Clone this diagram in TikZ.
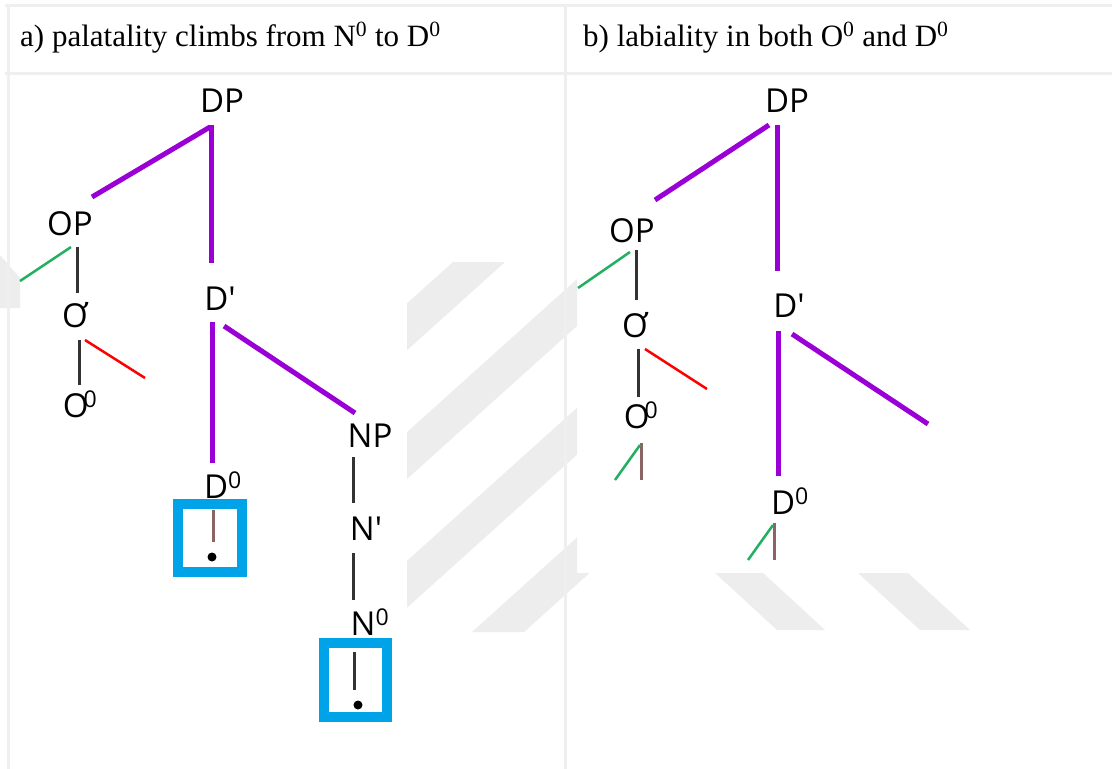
\documentclass[tikz,border=0pt]{standalone}
\usepackage{fontspec}
\setmainfont{Liberation Serif}
\newfontfamily\treefont{Open Sans}[Ligatures=TeXOff]
\definecolor{purp}{HTML}{9A00D6}
\definecolor{grn}{HTML}{22B060}
\definecolor{boxblue}{HTML}{00A2E8}
\definecolor{wm}{HTML}{EDEDED}
\definecolor{rulec}{HTML}{EFEFEF}
\definecolor{dk}{HTML}{333333}
\definecolor{brn}{HTML}{8C6464}
\begin{document}
\begin{tikzpicture}[x=1pt,y=-1pt,
  lab/.style={font=\treefont\fontsize{33}{33}\selectfont, inner sep=0pt, anchor=base},
  captxt/.style={font=\fontsize{31}{31}\selectfont, inner sep=0pt, anchor=base west},
  pl/.style={draw=purp, line width=5pt},
  dl/.style={draw=dk, line width=3pt},
  gl/.style={draw=grn, line width=2.5pt},
  rl/.style={draw=red, line width=2.5pt},
  bl/.style={draw=brn, line width=3pt},
  hbox/.style={draw=boxblue, line width=10pt, inner sep=0pt, minimum width=64pt, minimum height=68pt},
  dotn/.style={circle, fill=black, inner sep=0pt, minimum size=9pt},
  border/.style={draw=rulec, line width=3pt},
  stripe/.style={fill=wm, draw=none}]
\useasboundingbox (0,0) rectangle (1112,769);
\fill[white] (0,0) rectangle (1112,769);
% watermark
\begin{scope}
\clip (407,76) rectangle (577,769) (577,573) rectangle (1112,769) (0,76) rectangle (20,769);
\foreach \b in {42,185,328,472}{
  \fill[stripe] (\b,632) -- (\b+52,632) -- (\b+463,262) -- (\b+411,262) -- cycle;}
\fill[stripe] (777,630) -- (825,630) -- (662,480) -- (614,480) -- cycle;
\fill[stripe] (920,630) -- (970,630) -- (807,480) -- (757,480) -- cycle;
\fill[stripe] (0,255) -- (20,278) -- (20,308) -- (0,308) -- cycle;
\end{scope}
% table borders
\draw[border] (5,5) -- (1112,5);
\draw[border] (5,73) -- (1112,73);
\draw[border] (8,5) -- (8,769);
\draw[border] (565,5) -- (565,769);
% captions
\node[captxt] (capa) at (20,46) {a) palatality climbs from N\textsuperscript{0} to D\textsuperscript{0}};
\node[captxt] (capb) at (583,46) {b) labiality in both O\textsuperscript{0} and D\textsuperscript{0}};
% ---------- tree a ----------
\node[lab] (dpa) at (222,112) {DP};
\node[lab] (opa) at (70,235) {OP};
\node[lab] (oba) at (75,327) {Ơ};
\node[lab] (o0a) at (80,417) {O\kern-0.15em\textsuperscript{0}};
\node[lab] (dba) at (220,310) {D'};
\node[lab] (d0a) at (223,498) {D\textsuperscript{0}};
\node[lab] (npa) at (370,447) {NP};
\node[lab] (nba) at (366,540) {N'};
\node[lab] (n0a) at (370,635) {N\textsuperscript{0}};
\coordinate (a1) at (210,127); \coordinate (a2) at (92,197);
\coordinate (a3) at (211,125); \coordinate (a4) at (211,263);
\coordinate (a5) at (212,322); \coordinate (a6) at (212,463);
\coordinate (a7) at (224,326); \coordinate (a8) at (355,413);
\coordinate (a9) at (77,247); \coordinate (a10) at (77,293);
\coordinate (a11) at (71,247); \coordinate (a12) at (20,281);
\coordinate (a13) at (79,340); \coordinate (a14) at (79,385);
\coordinate (a15) at (85,340); \coordinate (a16) at (145,378);
\coordinate (a17) at (353,457); \coordinate (a18) at (353,503);
\coordinate (a19) at (353,553); \coordinate (a20) at (353,600);
\draw[pl] (a1) -- (a2);
\draw[pl] (a3) -- (a4);
\draw[pl] (a5) -- (a6);
\draw[pl] (a7) -- (a8);
\draw[dl] (a9) -- (a10);
\draw[gl] (a11) -- (a12);
\draw[dl] (a13) -- (a14);
\draw[rl] (a15) -- (a16);
\draw[dl] (a17) -- (a18);
\draw[dl] (a19) -- (a20);
\node[hbox] (box1) at (210,538) {};
\coordinate (e1) at (213,510); \coordinate (e2) at (213,542);
\draw[bl] (e1) -- (e2);
\node[dotn] (dot1) at (212,557) {};
\node[hbox, minimum width=63pt, minimum height=74pt] (box2) at (355.5,680) {};
\coordinate (e3) at (354,652); \coordinate (e4) at (354,690);
\draw[dl] (e3) -- (e4);
\node[dotn] (dot2) at (358,705) {};
% ---------- tree b ----------
\node[lab] (dpb) at (787,112) {DP};
\node[lab] (opb) at (632,242) {OP};
\node[lab] (obb) at (635,337) {Ơ};
\node[lab] (o0b) at (641,428) {O\kern-0.15em\textsuperscript{0}};
\node[lab] (dbb) at (789,317) {D'};
\node[lab] (d0b) at (790,514) {D\textsuperscript{0}};
\coordinate (b1) at (769,125); \coordinate (b2) at (655,200);
\coordinate (b3) at (777,125); \coordinate (b4) at (777,271);
\coordinate (b5) at (778,331); \coordinate (b6) at (778,476);
\coordinate (b7) at (792,334); \coordinate (b8) at (928,424);
\coordinate (b9) at (630,252); \coordinate (b10) at (578,288);
\coordinate (b11) at (636,250); \coordinate (b12) at (636,300);
\coordinate (b13) at (638,349); \coordinate (b14) at (638,397);
\coordinate (b15) at (645,349); \coordinate (b16) at (707,389);
\coordinate (b17) at (641,443); \coordinate (b18) at (641,480);
\coordinate (b19) at (640,445); \coordinate (b20) at (615,480);
\coordinate (b21) at (774,523); \coordinate (b22) at (774,560);
\coordinate (b23) at (773,525); \coordinate (b24) at (748,560);
\draw[pl] (b1) -- (b2);
\draw[pl] (b3) -- (b4);
\draw[pl] (b5) -- (b6);
\draw[pl] (b7) -- (b8);
\draw[gl] (b9) -- (b10);
\draw[dl] (b11) -- (b12);
\draw[dl] (b13) -- (b14);
\draw[rl] (b15) -- (b16);
\draw[bl] (b17) -- (b18);
\draw[gl] (b19) -- (b20);
\draw[bl] (b21) -- (b22);
\draw[gl] (b23) -- (b24);
\end{tikzpicture}
\end{document}
